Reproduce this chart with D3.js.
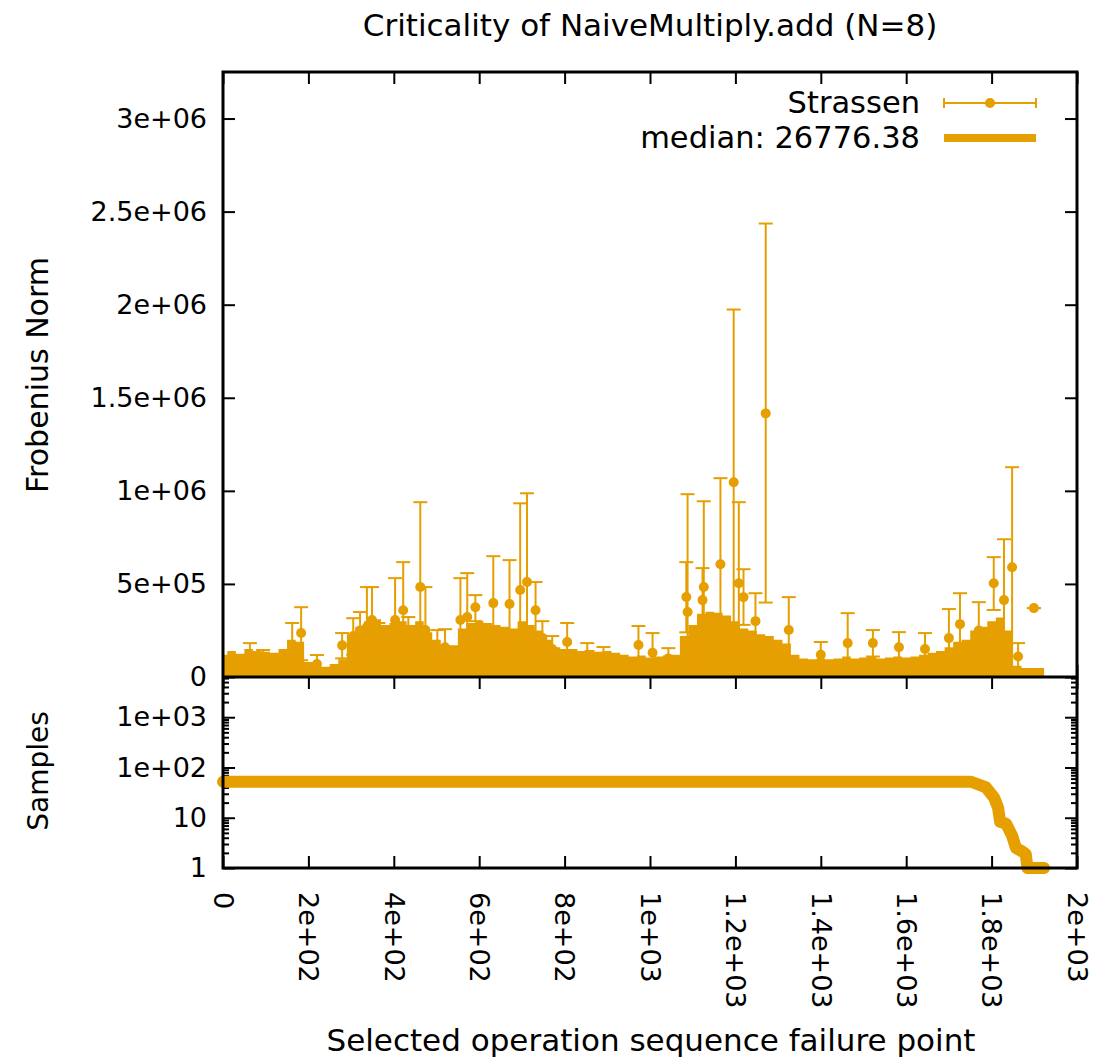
<!DOCTYPE html>
<html>
<head>
<meta charset="utf-8">
<script src="https://cdn.jsdelivr.net/npm/d3@7"></script>
<style>
  body { margin: 0; background: #fff; }
  text { font-family: "DejaVu Sans", "DejaVu Sans Book", Verdana, sans-serif; }
</style>
</head>
<body>
<div id="chart"></div>
<script>
//=========================data=====================================//
var title = "Criticality of NaiveMultiply.add (N=8)";
var xTickValues = [0, 200, 400, 600, 800, 1000, 1200, 1400, 1600, 1800, 2000];
var xTickLabels = ["0", "2e+02", "4e+02", "6e+02", "8e+02", "1e+03", "1.2e+03", "1.4e+03", "1.6e+03", "1.8e+03", "2e+03"];
var yTickValues = [0, 5e5, 1e6, 1.5e6, 2e6, 2.5e6, 3e6];
var yTickLabels = ["0", "5e+05", "1e+06", "1.5e+06", "2e+06", "2.5e+06", "3e+06"];
var sTickValues = [1, 10, 100, 1000];
var sTickLabels = ["1", "10", "1e+02", "1e+03"];
var median = 26776.38;

// dense part of the error bars: upper edge per bin of 20 operations (values in 1e3)
var envStep = 20;
var envHi = [120, 140, 125, 150, 140, 135, 130, 150, 200, 190,
             80, 60, 55, 70, 95, 230, 270, 300, 310, 280,
             290, 300, 280, 300, 240, 200, 150, 170, 260, 290,
             300, 290, 280, 270, 260, 300, 280, 250, 200, 160,
             150, 150, 140, 145, 135, 140, 130, 120, 110, 115,
             105, 110, 115, 120, 220, 280, 340, 350, 345, 330,
             300, 260, 250, 230, 220, 200, 180, 120, 100, 95,
             100, 95, 100, 110, 100, 105, 110, 100, 105, 110,
             105, 110, 120, 130, 140, 160, 190, 200, 250, 270,
             300, 320, 250, 60, 45, 40, 35];

// visible single error bars: [x, low, mean, high] (values in 1e3)
var spikes = [
  [63, 40, 110, 182], [94, 50, 100, 145], [162, 60, 172, 290], [183, 90, 236, 375],
  [220, 20, 70, 118], [279, 100, 170, 236], [305, 120, 220, 316], [321, 150, 250, 349],
  [337, 60, 268, 483], [349, 120, 306, 483], [364, 120, 210, 290], [403, 80, 306, 531],
  [422, 100, 359, 617], [434, 120, 220, 322], [462, 30, 483, 939], [474, 20, 252, 483],
  [502, 60, 155, 252], [520, 60, 160, 257], [556, 80, 306, 531], [572, 90, 322, 558],
  [591, 300, 375, 440], [633, 140, 397, 649], [671, 160, 392, 628], [696, 0, 467, 933],
  [712, 30, 510, 987], [732, 200, 359, 510], [748, 120, 210, 300], [771, 80, 150, 220],
  [806, 90, 188, 290], [853, 60, 120, 182], [891, 60, 110, 161], [973, 70, 172, 274],
  [1006, 40, 130, 236], [1043, 60, 100, 155], [1085, 240, 430, 617], [1088, 0, 349, 982],
  [1123, 240, 413, 585], [1126, 20, 483, 944], [1165, 140, 606, 1068], [1196, 120, 1046, 1974],
  [1208, 70, 504, 939], [1219, 280, 429, 579], [1247, 150, 300, 450], [1271, 400, 1416, 2436],
  [1325, 75, 252, 429], [1400, 60, 120, 188], [1463, 20, 182, 343], [1522, 110, 182, 252],
  [1583, 80, 160, 241], [1644, 60, 150, 236], [1700, 50, 209, 365], [1726, 120, 284, 450],
  [1770, 160, 250, 402], [1805, 360, 504, 644], [1829, 80, 413, 740], [1848, 50, 590, 1127],
  [1862, 40, 110, 182], [1899, 370, 370, 370]
];

// sample counts
var sampleX = [0, 1752, 1787, 1806, 1815, 1820, 1834, 1848, 1857, 1873, 1880, 1884, 1923];
var sampleN = [52, 52, 40, 25, 16, 8.3, 7.6, 4.4, 2.5, 2.1, 1.9, 1, 1];
//=========================data=====================================//

var W = 1111, H = 1063;
var left = 223, right = 1077, top1 = 72, bot1 = 677, bot2 = 868;
var orange = "#e69f00";
var tickFont = 27, labelFont = 31;

var svg = d3.select("#chart").append("svg")
  .attr("width", W)
  .attr("height", H)
  .attr("font-family", "DejaVu Sans");

var x = d3.scaleLinear().domain([0, 2000]).range([left, right]);
var y = d3.scaleLinear().domain([0, 3.25e6]).range([bot1, top1]);
var ys = d3.scaleLog().domain([1, 6310]).range([bot2, bot1]);

//=================ticks (behind data)===============//
function noLabel() { return ""; }
function styleAxis(g) {
  g.attr("font-family", "DejaVu Sans");
  g.select(".domain").remove();
  g.selectAll("line").attr("stroke", "#000").attr("stroke-width", 2);
  g.selectAll("text").attr("fill", "#000").attr("font-size", tickFont);
}

svg.append("g").attr("transform", "translate(" + left + ",0)")
  .call(d3.axisLeft(y).tickValues(yTickValues).tickSize(-12).tickPadding(16)
    .tickFormat(function(d, i) { return yTickLabels[i]; }))
  .call(styleAxis);
svg.append("g").attr("transform", "translate(" + right + ",0)")
  .call(d3.axisRight(y).tickValues(yTickValues).tickSize(-12).tickFormat(noLabel))
  .call(styleAxis);
svg.append("g").attr("transform", "translate(0," + top1 + ")")
  .call(d3.axisTop(x).tickValues(xTickValues).tickSize(-12).tickFormat(noLabel))
  .call(styleAxis);
svg.append("g").attr("transform", "translate(0," + bot1 + ")")
  .call(d3.axisBottom(x).tickValues(xTickValues).tickSize(-12).tickFormat(noLabel))
  .call(styleAxis);

// lower panel
svg.append("g").attr("transform", "translate(0," + bot1 + ")")
  .call(d3.axisBottom(x).tickValues(xTickValues).tickSize(12).tickFormat(noLabel))
  .call(styleAxis);
var xb = svg.append("g").attr("transform", "translate(0," + bot2 + ")")
  .call(d3.axisBottom(x).tickValues(xTickValues).tickSize(-12)
    .tickFormat(function(d, i) { return xTickLabels[i]; }))
  .call(styleAxis);
xb.selectAll("text")
  .attr("transform", "rotate(90)")
  .attr("x", 24)
  .attr("y", 0)
  .attr("dy", "0.36em")
  .attr("text-anchor", "start");

var minor = ys.ticks().filter(function(d) { return sTickValues.indexOf(d) < 0; });
[left, right].forEach(function(px, k) {
  var major = (k == 0 ? d3.axisLeft(ys) : d3.axisRight(ys)).tickValues(sTickValues).tickSize(-12);
  major.tickPadding(16).tickFormat(k == 0 ? function(d, i) { return sTickLabels[i]; } : noLabel);
  svg.append("g").attr("transform", "translate(" + px + ",0)").call(major).call(styleAxis);
  var mn = (k == 0 ? d3.axisLeft(ys) : d3.axisRight(ys)).tickValues(minor).tickSize(-6).tickFormat(noLabel);
  svg.append("g").attr("transform", "translate(" + px + ",0)").call(mn).call(styleAxis);
});

//=================upper panel data===============//
var area = d3.area()
  .curve(d3.curveStepAfter)
  .x(function(d, i) { return x(i * envStep - envStep / 2 < 0 ? 0 : i * envStep - envStep / 2); })
  .y0(y(0))
  .y1(function(d) { return y(d * 1e3); });
svg.append("path")
  .datum(envHi)
  .attr("d", area)
  .attr("fill", orange);

var bars = svg.append("g").attr("stroke", orange).attr("stroke-width", 2);
bars.selectAll("line.bar").data(spikes).enter().append("line")
  .attr("x1", function(d) { return x(d[0]); })
  .attr("x2", function(d) { return x(d[0]); })
  .attr("y1", function(d) { return y(d[1] * 1e3); })
  .attr("y2", function(d) { return y(d[3] * 1e3); });
bars.selectAll("line.capHi").data(spikes).enter().append("line")
  .attr("x1", function(d) { return x(d[0]) - 7; })
  .attr("x2", function(d) { return x(d[0]) + 7; })
  .attr("y1", function(d) { return y(d[3] * 1e3); })
  .attr("y2", function(d) { return y(d[3] * 1e3); });
bars.selectAll("line.capLo").data(spikes).enter().append("line")
  .attr("x1", function(d) { return x(d[0]) - 7; })
  .attr("x2", function(d) { return x(d[0]) + 7; })
  .attr("y1", function(d) { return y(d[1] * 1e3); })
  .attr("y2", function(d) { return y(d[1] * 1e3); });
svg.selectAll("circle.pt").data(spikes).enter().append("circle")
  .attr("cx", function(d) { return x(d[0]); })
  .attr("cy", function(d) { return y(d[2] * 1e3); })
  .attr("r", 5)
  .attr("fill", orange);

// median line
svg.append("line")
  .attr("x1", x(0)).attr("x2", x(sampleX[sampleX.length - 1]))
  .attr("y1", y(median)).attr("y2", y(median))
  .attr("stroke", orange)
  .attr("stroke-width", 8);

//=================lower panel data===============//
var sLine = d3.line()
  .x(function(d, i) { return x(sampleX[i]); })
  .y(function(d) { return ys(d); });
svg.append("path")
  .datum(sampleN)
  .attr("d", sLine)
  .attr("fill", "none")
  .attr("stroke", orange)
  .attr("stroke-width", 12)
  .attr("stroke-linejoin", "round")
  .attr("stroke-linecap", "round");

//=================borders===============//
svg.append("rect")
  .attr("x", left).attr("y", top1)
  .attr("width", right - left).attr("height", bot2 - top1)
  .attr("fill", "none").attr("stroke", "#000").attr("stroke-width", 3);
svg.append("line")
  .attr("x1", left).attr("x2", right)
  .attr("y1", bot1).attr("y2", bot1)
  .attr("stroke", "#000").attr("stroke-width", 3);

//=================legend===============//
var lg = svg.append("g").attr("font-size", 30.5).attr("text-anchor", "end");
lg.append("text").attr("x", 920).attr("y", 113).text("Strassen");
lg.append("text").attr("x", 920).attr("y", 148).text("median: " + median.toFixed(2));
lg.append("line").attr("x1", 944).attr("x2", 1036).attr("y1", 103).attr("y2", 103)
  .attr("stroke", orange).attr("stroke-width", 2);
[944, 1036].forEach(function(px) {
  lg.append("line").attr("x1", px).attr("x2", px).attr("y1", 98).attr("y2", 108)
    .attr("stroke", orange).attr("stroke-width", 2);
});
lg.append("circle").attr("cx", 990).attr("cy", 103).attr("r", 5).attr("fill", orange);
lg.append("line").attr("x1", 944).attr("x2", 1036).attr("y1", 138).attr("y2", 138)
  .attr("stroke", orange).attr("stroke-width", 8);

//=================titles===============//
svg.append("text")
  .attr("x", 650).attr("y", 36)
  .attr("text-anchor", "middle").attr("font-size", labelFont)
  .text(title);
svg.append("text")
  .attr("x", 651).attr("y", 1051)
  .attr("text-anchor", "middle").attr("font-size", labelFont)
  .text("Selected operation sequence failure point");
svg.append("text")
  .attr("transform", "translate(48,375) rotate(-90)")
  .attr("text-anchor", "middle").attr("font-size", 30)
  .text("Frobenius Norm");
svg.append("text")
  .attr("transform", "translate(48,771) rotate(-90)")
  .attr("text-anchor", "middle").attr("font-size", 28)
  .text("Samples");
</script>
</body>
</html>
